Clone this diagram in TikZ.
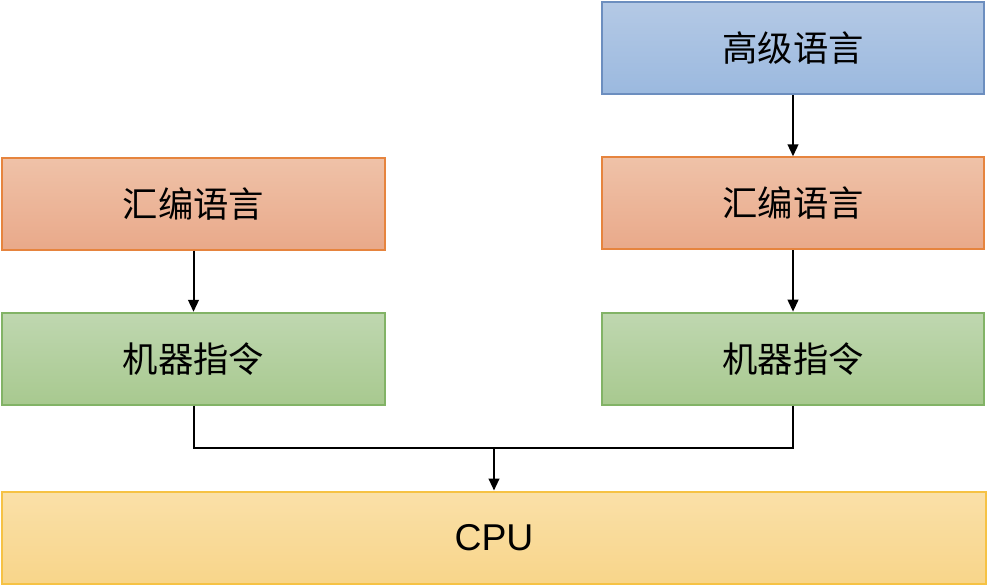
\documentclass[tikz,border=0pt]{standalone}
\usepackage{fontspec}
\setmainfont{Liberation Sans}
\newfontfamily\cjk{Noto Sans CJK SC}
\usetikzlibrary{arrows.meta,positioning,calc}
\definecolor{blueTop}{HTML}{B4C9E5}
\definecolor{blueBot}{HTML}{9BB9DF}
\definecolor{blueLine}{HTML}{6C8EBF}
\definecolor{orangeTop}{HTML}{EFC2A8}
\definecolor{orangeBot}{HTML}{E9A98A}
\definecolor{orangeLine}{HTML}{E6843E}
\definecolor{greenTop}{HTML}{BFD7B0}
\definecolor{greenBot}{HTML}{A8C98F}
\definecolor{greenLine}{HTML}{82B366}
\definecolor{yellowTop}{HTML}{FAE0A8}
\definecolor{yellowBot}{HTML}{F8D58A}
\definecolor{yellowLine}{HTML}{F6C244}

\begin{document}
\begin{tikzpicture}[
  x=0.75pt, y=-0.75pt,
  >={Triangle[length=9pt,width=8pt]},
  box/.style={
    draw, line width=1.5pt, inner sep=0pt,
    minimum width=287pt, minimum height=69pt,
    align=center, font=\cjk\fontsize{26.5}{30}\selectfont
  },
  high/.style={box, draw=blueLine, top color=blueTop, bottom color=blueBot},
  asm/.style={box, draw=orangeLine, top color=orangeTop, bottom color=orangeBot},
  mach/.style={box, draw=greenLine, top color=greenTop, bottom color=greenBot},
  cpubox/.style={box, draw=yellowLine, top color=yellowTop, bottom color=yellowBot,
    minimum width=738pt, font=\fontsize{28}{32}\selectfont},
  arr/.style={->, line width=1.5pt}
]
  \useasboundingbox (0,0) rectangle (988,586);

  % Left column
  \node[asm] (asmL) at (193.5,203.5) {汇编语言};
  \node[mach, below=46pt of asmL] (machL) {机器指令};

  % Right column
  \node[high] (high) at (793,48) {高级语言};
  \node[asm, below=46pt of high] (asmR) {汇编语言};
  \node[mach, below=46pt of asmR] (machR) {机器指令};

  % CPU
  \node[cpubox] (cpu) at (494,537.5) {CPU};

  \draw[arr] (high.south) -- (asmR.north);
  \draw[arr] (asmL.south) -- (machL.north);
  \draw[arr] (asmR.south) -- (machR.north);

  \coordinate (join) at ($(cpu.north)!0.5!(cpu.north |- machL.south)$);
  \draw[line width=1.5pt] (machL.south) |- (join);
  \draw[line width=1.5pt] (machR.south) |- (join);
  \draw[arr] (join) -- (cpu.north);

\end{tikzpicture}
\end{document}
